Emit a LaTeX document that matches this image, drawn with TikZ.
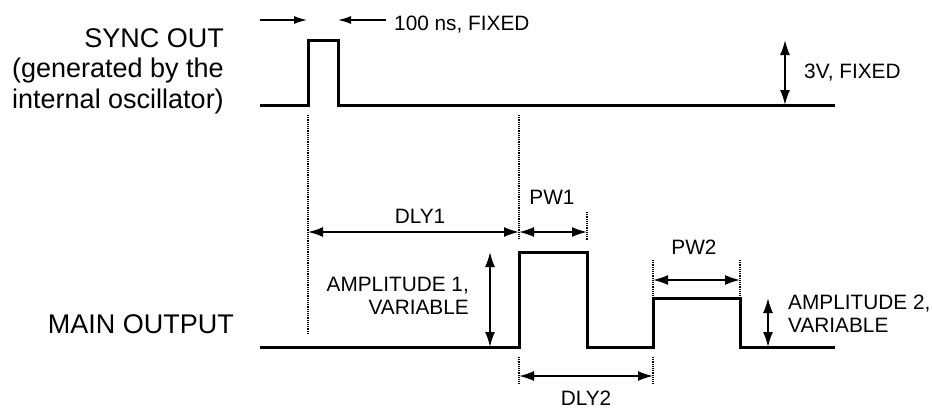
\documentclass[tikz,border=0pt]{standalone}
\usepackage{fontspec}
\setmainfont{Liberation Sans}
\usetikzlibrary{arrows.meta, positioning}

\begin{document}
\begin{tikzpicture}[
    x=1pt, y=-1pt,
    wave/.style={line width=3pt, line join=miter},
    dimline/.style={line width=1.8pt, {Latex[length=15pt,width=10pt]}-{Latex[length=15pt,width=10pt]}},
    pointer/.style={line width=1.4pt, -{Latex[length=13pt,width=8pt]}},
    guide/.style={line width=1.2pt, densely dotted},
    biglabel/.style={font=\fontsize{27}{30.5}\selectfont, align=right, inner sep=0pt},
    smalllabel/.style={font=\fontsize{20.8}{23}\selectfont, inner sep=0pt}
]
\useasboundingbox (0,0) rectangle (932,408);

% Key points of the sync waveform
\coordinate (s0) at (260,105);
\coordinate (s1) at (308,105);
\coordinate (s2) at (308,40);
\coordinate (s3) at (338,40);
\coordinate (s4) at (338,105);
\coordinate (s5) at (835,105);

% Key points of the main waveform
\coordinate (m0) at (260,347);
\coordinate (m1) at (519,347);
\coordinate (m2) at (519,252);
\coordinate (m3) at (587,252);
\coordinate (m4) at (587,347);
\coordinate (m5) at (653,347);
\coordinate (m6) at (653,298);
\coordinate (m7) at (740,298);
\coordinate (m8) at (740,347);
\coordinate (m9) at (835,347);

% Waveforms
\draw[wave] (s0) -- (s1) -- (s2) -- (s3) -- (s4) -- (s5);
\draw[wave] (m0) -- (m1) -- (m2) -- (m3) -- (m4) -- (m5) -- (m6) -- (m7) -- (m8) -- (m9);

% Labels
\node[biglabel, anchor=north east] (sync) at (224,28) {SYNC OUT\\(generated by the\\internal oscillator)};
\node[biglabel, anchor=base east] (main) at (234,333) {MAIN OUTPUT};

% Pulse width of the sync pulse
\coordinate (pw0a) at (260,20);
\coordinate (pw0b) at (307,20);
\coordinate (pw0c) at (386,20);
\coordinate (pw0d) at (338,20);
\draw[pointer] (pw0a) -- (pw0b);
\draw[pointer] (pw0c) -- (pw0d);
\node[smalllabel, anchor=base west] (fixedw) at (394,30) {100 ns, FIXED};

% Sync amplitude
\coordinate (a0top) at (785,40);
\coordinate (a0bot) at (785,105);
\draw[dimline] (a0top) -- (a0bot);
\node[smalllabel, anchor=base west] (fixeda) at (804,78) {3V, FIXED};

% Guide lines
\coordinate (g1a) at (308,115); \coordinate (g1b) at (308,335);
\coordinate (g2a) at (519,115); \coordinate (g2b) at (519,240);
\coordinate (g3a) at (587,212); \coordinate (g3b) at (587,240);
\coordinate (g4a) at (519,357); \coordinate (g4b) at (519,384);
\coordinate (g5a) at (653,357); \coordinate (g5b) at (653,384);
\coordinate (g6a) at (653,260); \coordinate (g6b) at (653,296);
\coordinate (g7a) at (740,260); \coordinate (g7b) at (740,296);
\draw[guide] (g1a) -- (g1b);
\draw[guide] (g2a) -- (g2b);
\draw[guide] (g3a) -- (g3b);
\draw[guide] (g4a) -- (g4b);
\draw[guide] (g5a) -- (g5b);
\draw[guide] (g6a) -- (g6b);
\draw[guide] (g7a) -- (g7b);

% Delays and widths
\coordinate (d1a) at (308,232); \coordinate (d1b) at (519,232);
\coordinate (p1b) at (587,232);
\coordinate (d2a) at (519,376); \coordinate (d2b) at (653,376);
\coordinate (p2a) at (653,280); \coordinate (p2b) at (740,280);
\draw[dimline] (d1a) -- (d1b);
\draw[dimline] (d1b) -- (p1b);
\draw[dimline] (d2a) -- (d2b);
\draw[dimline] (p2a) -- (p2b);
\node[smalllabel, anchor=base] (dly1) at (420,223) {DLY1};
\node[smalllabel, anchor=base] (pw1) at (552,204) {PW1};
\node[smalllabel, anchor=base] (dly2) at (586,405) {DLY2};
\node[smalllabel, anchor=base] (pw2) at (694,254) {PW2};

% Amplitudes
\coordinate (a1top) at (490,252); \coordinate (a1bot) at (490,347);
\coordinate (a2top) at (768,298); \coordinate (a2bot) at (768,347);
\draw[dimline] (a1top) -- (a1bot);
\draw[dimline] (a2top) -- (a2bot);
\node[smalllabel, align=right, anchor=north east] (amp1) at (469,277) {AMPLITUDE 1,\\VARIABLE};
\node[smalllabel, align=left, anchor=north west] (amp2) at (788,295) {AMPLITUDE 2,\\VARIABLE};

\end{tikzpicture}
\end{document}
